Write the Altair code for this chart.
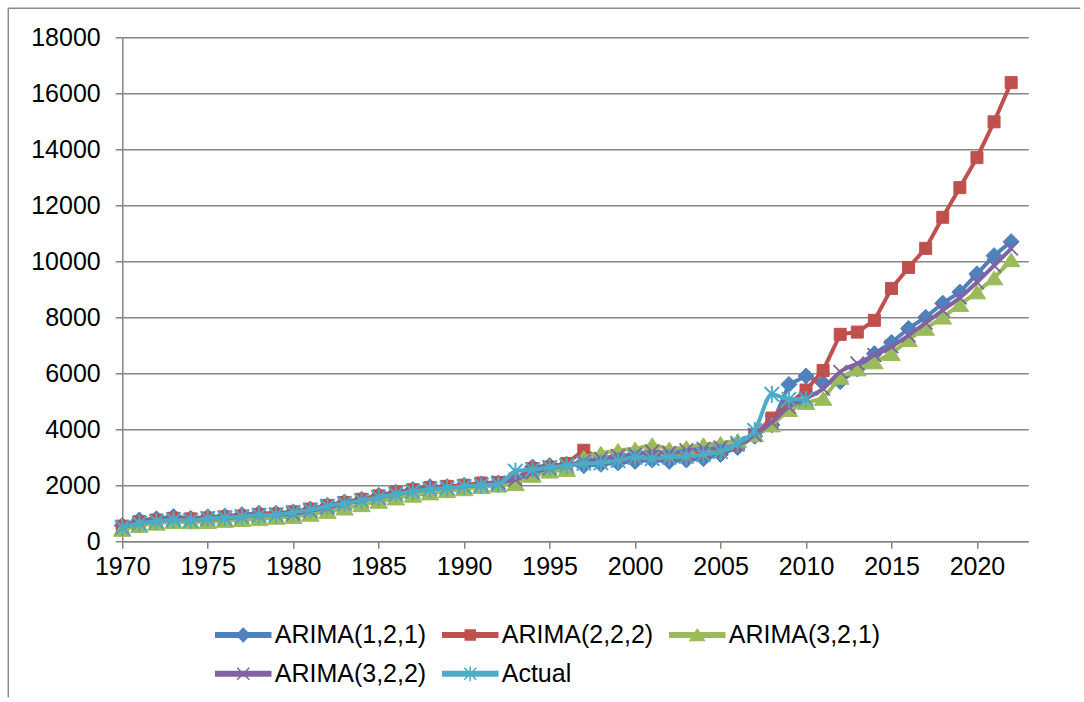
import altair as alt
import pandas as pd

# ---------------- data ----------------
years = list(range(1970, 2023))
actual_years = list(range(1970, 2011))
series_names = ["ARIMA(1,2,1)", "ARIMA(2,2,2)", "ARIMA(3,2,1)", "ARIMA(3,2,2)", "Actual"]
colors = ["#4F81BD", "#C0504D", "#9BBB59", "#8064A2", "#4BACC6"]

arima_121 = [560, 760, 800, 880, 820, 870, 900, 950, 1000, 1000,
             1050, 1150, 1280, 1400, 1500, 1640, 1750, 1850, 1950, 1950,
             2000, 2050, 2080, 2200, 2650, 2700, 2750, 2700, 2750, 2800,
             2850, 2900, 2850, 2900, 2950, 3100, 3350, 3750, 4150, 5600,
             5900, 5650, 5700, 6150, 6700, 7100, 7600, 8000, 8500, 8900, 9550, 10200, 10700]
arima_222 = [540, 700, 760, 820, 800, 830, 870, 900, 960, 970,
             1050, 1150, 1280, 1380, 1500, 1620, 1740, 1840, 1920, 1960,
             2000, 2080, 2100, 2150, 2600, 2650, 2780, 3250, 2950, 3000,
             3050, 3100, 3050, 3100, 3150, 3250, 3450, 3800, 4400, 4900,
             5400, 6100, 7390, 7470, 7890, 9030, 9780, 10460, 11570, 12630, 13700, 14980, 16380]
arima_321 = [420, 560, 640, 700, 690, 700, 740, 770, 800, 850,
             880, 960, 1060, 1180, 1300, 1420, 1540, 1640, 1720, 1800,
             1870, 1950, 2000, 2050, 2350, 2500, 2560, 3000, 3150, 3250,
             3300, 3450, 3300, 3350, 3450, 3500, 3600, 3800, 4150, 4700,
             4950, 5100, 5850, 6150, 6400, 6700, 7200, 7600, 8000, 8450, 8900, 9400, 10050]
arima_322 = [480, 650, 720, 790, 760, 800, 830, 870, 920, 940,
             980, 1080, 1200, 1330, 1450, 1560, 1680, 1780, 1860, 1920,
             1960, 2020, 2100, 2200, 2450, 2600, 2700, 2850, 2950, 3050,
             3100, 3200, 3150, 3250, 3300, 3350, 3450, 3800, 4250, 4800,
             5100, 5450, 6050, 6350, 6650, 6950, 7350, 7800, 8250, 8700, 9250, 9850, 10450]
actual = [500, 640, 710, 760, 740, 820, 840, 880, 930, 950,
          1030, 1120, 1250, 1350, 1450, 1570, 1680, 1780, 1860, 1900,
          1960, 2000, 2030, 2500, 2560, 2640, 2700, 2780, 2800, 2880,
          3000, 2950, 3000, 3030, 3100, 3200, 3500, 3960, 5250, 5070,
          5070]

x_ticks = list(range(1970, 2021, 5))
y_ticks = list(range(0, 18001, 2000))

# legend order (entries fill column by column in a 3-column, 2-row grid)
legend_order = ["ARIMA(1,2,1)", "ARIMA(3,2,2)", "ARIMA(2,2,2)", "Actual", "ARIMA(3,2,1)"]

# ---------------- build table ----------------
series_data = [
    (series_names[0], years, arima_121),
    (series_names[1], years, arima_222),
    (series_names[2], years, arima_321),
    (series_names[3], years, arima_322),
    (series_names[4], actual_years, actual),
]
rows = []
for name, ys, vals in series_data:
    for yr, v in zip(ys, vals):
        rows.append({"year": yr, "series": name, "value": v})
df = pd.DataFrame(rows)

# marker shapes (unit paths)
marker_paths = [
    "M0,-1L1,0L0,1L-1,0Z",                                   # diamond
    "M-0.75,-0.75L0.75,-0.75L0.75,0.75L-0.75,0.75Z",          # square
    "M0,-0.85L1.1,0.85L-1.1,0.85Z",                           # triangle
    "M-0.85,-0.85L0.85,0.85M0.85,-0.85L-0.85,0.85",           # x
    "M-0.9,-0.9L0.9,0.9M0.9,-0.9L-0.9,0.9M0,-1.05L0,1.05",    # asterisk
]
marker_stroke = [1, 1, 1, 1.8, 2]
interp = ["linear", "linear", "linear", "monotone", "monotone"]

bar = "M-2.5,-0.2L2.5,-0.2L2.5,0.2L-2.5,0.2Z"
legend_shape = {
    "ARIMA(1,2,1)": bar + "M0,-0.6L0.6,0L0,0.6L-0.6,0Z",
    "ARIMA(2,2,2)": bar + "M-0.45,-0.45L0.45,-0.45L0.45,0.45L-0.45,0.45Z",
    "ARIMA(3,2,1)": bar + "M0,-0.5L0.65,0.5L-0.65,0.5Z",
    "ARIMA(3,2,2)": bar + "M-0.55,-0.55L0.55,0.55M0.55,-0.55L-0.55,0.55",
    "Actual": bar + "M-0.55,-0.55L0.55,0.55M0.55,-0.55L-0.55,0.55M0,-0.65L0,0.65",
}
color_of = dict(zip(series_names, colors))
legend_colors = [color_of[n] for n in legend_order]
legend_paths = [legend_shape[n] for n in legend_order]

x_enc = alt.X("year:Q",
              scale=alt.Scale(domain=[1970, 2023], nice=False, zero=False),
              axis=alt.Axis(values=x_ticks, format="d", title=None, grid=False,
                            tickSize=7, labelPadding=6, labelFlush=False,
                            labelOverlap=False))
y_enc = alt.Y("value:Q",
              scale=alt.Scale(domain=[0, 18000], nice=False),
              axis=alt.Axis(values=y_ticks, format="d", title=None, grid=True,
                            tickSize=7, labelPadding=15, labelOverlap=False))

layers = []
for i, name in enumerate(series_names):
    base = alt.Chart(df).transform_filter(alt.datum.series == name)
    line = base.mark_line(color=colors[i], strokeWidth=4, interpolate=interp[i],
                          strokeCap="round", strokeJoin="round").encode(x=x_enc, y=y_enc)
    pts = base.mark_point(shape=marker_paths[i], filled=True, fill=colors[i],
                          stroke=colors[i], strokeWidth=marker_stroke[i],
                          size=256, opacity=1).encode(x=x_enc, y=y_enc)
    layers += [line, pts]

leg = alt.Legend(title=None, orient="none", legendX=92, legendY=585, columns=3,
                 symbolSize=484, symbolStrokeWidth=1.5, symbolOffset=16.5,
                 labelOffset=19, columnPadding=13, rowPadding=13,
                 labelFont="Liberation Sans", labelFontSize=25, labelColor="black",
                 padding=0)
legend_layer = alt.Chart(df).transform_filter("datum.value < 0").mark_point(
    filled=True, opacity=1).encode(
    x=x_enc, y=y_enc,
    fill=alt.Fill("series:N", scale=alt.Scale(domain=legend_order, range=legend_colors), legend=leg),
    stroke=alt.Stroke("series:N", scale=alt.Scale(domain=legend_order, range=legend_colors), legend=leg),
    shape=alt.Shape("series:N", scale=alt.Scale(domain=legend_order, range=legend_paths), legend=leg),
)
layers.append(legend_layer)

one = alt.InlineData(values=[{"a": 1}])
border_top = alt.Chart(one).mark_rule(color="#8C8C8C", strokeWidth=1.5).encode(
    x=alt.value(-114), x2=alt.value(958), y=alt.value(-29))
border_left = alt.Chart(one).mark_rule(color="#8C8C8C", strokeWidth=1.5).encode(
    x=alt.value(-114), y=alt.value(-29), y2=alt.value(660))
layers += [border_top, border_left]

chart = alt.layer(*layers).properties(
    width=906, height=504,
    padding={"left": 7.25, "top": 7.25, "right": 0, "bottom": 0},
).configure_view(stroke=None).configure_axis(
    domainColor="#868686", domainWidth=1.5, tickColor="#868686", tickWidth=1.5,
    gridColor="#868686", gridWidth=1.3,
    labelFont="Liberation Sans", labelFontSize=25, labelColor="black",
)

chart.save("out.html", embed_options={"renderer": "svg", "actions": False})
